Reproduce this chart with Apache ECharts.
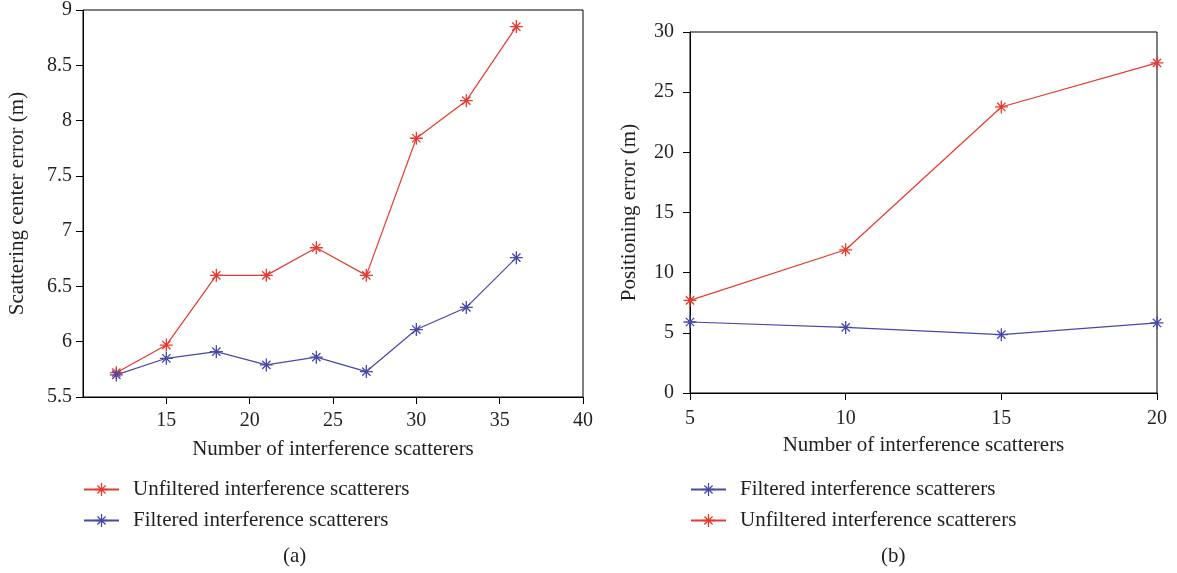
<!DOCTYPE html>
<html>
<head>
<meta charset="utf-8">
<script src="https://cdn.jsdelivr.net/npm/echarts@6/dist/echarts.min.js"></script>
<style>
  html, body { margin: 0; padding: 0; background: #fff; }
  #chart { width: 1177px; height: 573px; }
</style>
</head>
<body>
<div id="chart"></div>
<script>
// (a) scattering center error
const xA = [12, 15, 18, 21, 24, 27, 30, 33, 36]
const unfilteredA = [5.72, 5.97, 6.6, 6.6, 6.85, 6.6, 7.84, 8.18, 8.85]
const filteredA = [5.70, 5.85, 5.91, 5.79, 5.86, 5.73, 6.11, 6.31, 6.76]
const xTicksA = [15, 20, 25, 30, 35, 40]

// (b) positioning error
const xB = [5, 10, 15, 20]
const filteredB = [5.9, 5.45, 4.85, 5.82]
const unfilteredB = [7.7, 11.9, 23.77, 27.43]

const RED = '#e53a2f'
const BLUE = '#4848a8'
const FONT = "'Liberation Serif', 'DejaVu Serif', serif"
const TXT = '#231f20'

// asterisk marker built from four thin bars
const ASTERISK = 'path://M-1,-10L1,-10L1,10L-1,10Z M-10,-1L10,-1L10,1L-10,1Z ' +
  'M-7.07,-5.66L-5.66,-7.07L7.07,5.66L5.66,7.07Z M5.66,-7.07L7.07,-5.66L-5.66,7.07L-7.07,5.66Z'

const zip = (xs, ys) => xs.map((x, i) => [x, ys[i]])

const chart = echarts.init(document.getElementById('chart'), null, { renderer: 'canvas' })

const axisCommon = {
  axisLine: { lineStyle: { color: '#000', width: 1 } },
  axisTick: { length: 7, lineStyle: { color: '#000' } },
  splitLine: { show: false },
  nameTextStyle: { color: TXT, fontFamily: FONT, fontSize: 21 },
}
const labelStyle = { color: TXT, fontFamily: FONT, fontSize: 20 }
const legendCommon = {
  orient: 'vertical', top: 479, itemWidth: 35, itemHeight: 16, itemGap: 10, padding: 0,
  textStyle: { color: TXT, fontFamily: FONT, fontSize: 21, padding: [0, 0, 0, 9] },
  selectedMode: false,
}

const lineSeries = (name, color, data, idx) => ({
  name,
  type: 'line',
  xAxisIndex: idx,
  yAxisIndex: idx,
  data,
  symbol: ASTERISK,
  symbolSize: 13,
  color,
  lineStyle: { color, width: 1.2 },
  itemStyle: { color },
})

chart.setOption({
  backgroundColor: '#fff',
  animation: false,
  textStyle: { fontFamily: FONT },
  grid: [
    { left: 83, top: 10, width: 500, height: 387, show: true, borderColor: '#000', borderWidth: 1, backgroundColor: 'transparent' },
    { left: 690, top: 32, width: 467, height: 361, show: true, borderColor: '#000', borderWidth: 1, backgroundColor: 'transparent' },
  ],
  xAxis: [
    {
      ...axisCommon, type: 'value', gridIndex: 0, min: 10, max: 40,
      name: 'Number of interference scatterers', nameLocation: 'middle', nameGap: 42,
      axisTick: { ...axisCommon.axisTick, customValues: xTicksA },
      axisLabel: { ...labelStyle, margin: 14, customValues: xTicksA },
    },
    {
      ...axisCommon, type: 'value', gridIndex: 1, min: 5, max: 20, interval: 5,
      name: 'Number of interference scatterers', nameLocation: 'middle', nameGap: 42,
      axisLabel: { ...labelStyle, margin: 16 },
    },
  ],
  yAxis: [
    {
      ...axisCommon, type: 'value', gridIndex: 0, min: 5.5, max: 9, interval: 0.5,
      name: 'Scattering center error (m)', nameLocation: 'middle', nameGap: 55,
      axisLabel: { ...labelStyle, margin: 11 },
    },
    {
      ...axisCommon, type: 'value', gridIndex: 1, min: 0, max: 30, interval: 5,
      name: 'Positioning error (m)', nameLocation: 'middle', nameGap: 50,
      axisLabel: { ...labelStyle, margin: 16 },
    },
  ],
  // names for (b) carry a trailing space so the two legends stay apart
  legend: [
    { ...legendCommon, left: 83, data: ['Unfiltered interference scatterers', 'Filtered interference scatterers'] },
    { ...legendCommon, left: 690, data: ['Filtered interference scatterers ', 'Unfiltered interference scatterers '] },
  ],
  graphic: [
    { type: 'text', left: 283, top: 546, style: { text: '(a)', fill: TXT, font: '21px ' + FONT } },
    { type: 'text', left: 881, top: 546, style: { text: '(b)', fill: TXT, font: '21px ' + FONT } },
  ],
  series: [
    lineSeries('Unfiltered interference scatterers', RED, zip(xA, unfilteredA), 0),
    lineSeries('Filtered interference scatterers', BLUE, zip(xA, filteredA), 0),
    lineSeries('Filtered interference scatterers ', BLUE, zip(xB, filteredB), 1),
    lineSeries('Unfiltered interference scatterers ', RED, zip(xB, unfilteredB), 1),
  ],
})
</script>
</body>
</html>
